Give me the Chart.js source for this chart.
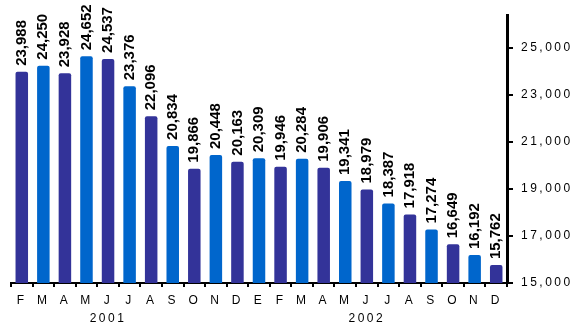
<!DOCTYPE html>
<html>
<head>
<meta charset="utf-8">
<script src="https://cdn.jsdelivr.net/npm/chart.js@4.4.1/dist/chart.umd.min.js"></script>
<style>
  html, body { margin: 0; padding: 0; background: #fff; }
  #wrap { width: 576px; height: 325px; position: relative; }
</style>
</head>
<body>
<div id="wrap"><canvas id="chart"></canvas></div>
<script>
// monthly values, Feb 2001 - Dec 2002
const months = ["F", "M", "A", "M", "J", "J", "A", "S", "O", "N", "D",
                "E", "F", "M", "A", "M", "J", "J", "A", "S", "O", "N", "D"];
const years = { 4: "2001", 16: "2002" };
const values = [23988, 24250, 23928, 24652, 24537, 23376, 22096, 20834, 19866, 20448, 20163,
                20309, 19946, 20284, 19906, 19341, 18979, 18387, 17918, 17274, 16649, 16192, 15762];
const yTicks = [15000, 17000, 19000, 21000, 23000, 25000];

const navy = "#333399";
const blue = "#0066CC";

const labels = months.map((m, i) => years[i] ? [m, years[i]] : m);
const colors = values.map((v, i) => i % 2 === 0 ? navy : blue);

function fmt(n) {
    return n.toString().replace(/\B(?=(\d{3})+(?!\d))/g, ",");
}

// wide spaced axis text
const spacingPlugin = {
    id: "spacing",
    beforeDraw(chart) { chart.ctx.letterSpacing = "2.5px"; },
    beforeDatasetsDraw(chart) { chart.ctx.letterSpacing = "0px"; }
};

// rotated value labels above each bar
const barLabels = {
    id: "barLabels",
    afterDatasetsDraw(chart) {
        const ctx = chart.ctx;
        const meta = chart.getDatasetMeta(0);
        ctx.save();
        ctx.letterSpacing = "0px";
        ctx.font = "bold 15px 'Liberation Sans Narrow', 'Arial Narrow', Arial, sans-serif";
        ctx.fillStyle = "#000";
        ctx.textAlign = "left";
        ctx.textBaseline = "middle";
        meta.data.forEach((bar, i) => {
            ctx.save();
            ctx.translate(bar.x, bar.y - 6);
            ctx.rotate(-Math.PI / 2);
            ctx.fillText(fmt(values[i]), 0, 0);
            ctx.restore();
        });
        ctx.restore();
    }
};

new Chart(document.getElementById("chart").getContext("2d"), {
    type: "bar",
    data: {
        labels: labels,
        datasets: [{
            data: values,
            backgroundColor: colors,
            borderRadius: { topLeft: 2, topRight: 2 },
            borderSkipped: "bottom",
            categoryPercentage: 1.0,
            barPercentage: 0.58
        }]
    },
    options: {
        responsive: true,
        maintainAspectRatio: false,
        animation: false,
        layout: { padding: { left: 11, top: 12, right: 0, bottom: 0 } },
        plugins: {
            legend: { display: false },
            tooltip: { enabled: false }
        },
        scales: {
            x: {
                grid: { drawOnChartArea: false, color: "#000", lineWidth: 2, tickLength: 4 },
                border: { display: true, color: "#000", width: 2 },
                ticks: {
                    color: "#000",
                    font: { family: "'Liberation Sans', Arial, sans-serif", size: 12, lineHeight: 1.5 },
                    autoSkip: false,
                    maxRotation: 0,
                    padding: 5
                },
                afterFit(scale) { scale.height = 42; }
            },
            y: {
                position: "right",
                min: 15000,
                max: 26400,
                grid: { drawOnChartArea: false, color: "#000", lineWidth: 2, tickLength: 6 },
                border: { display: true, color: "#000", width: 3 },
                ticks: {
                    color: "#000",
                    font: { family: "'Liberation Sans', Arial, sans-serif", size: 12 },
                    padding: 8,
                    callback: v => fmt(v)
                },
                afterBuildTicks(scale) { scale.ticks = yTicks.map(v => ({ value: v })); },
                afterFit(scale) { scale.width = 69; }
            }
        }
    },
    plugins: [spacingPlugin, barLabels]
});
</script>
</body>
</html>
